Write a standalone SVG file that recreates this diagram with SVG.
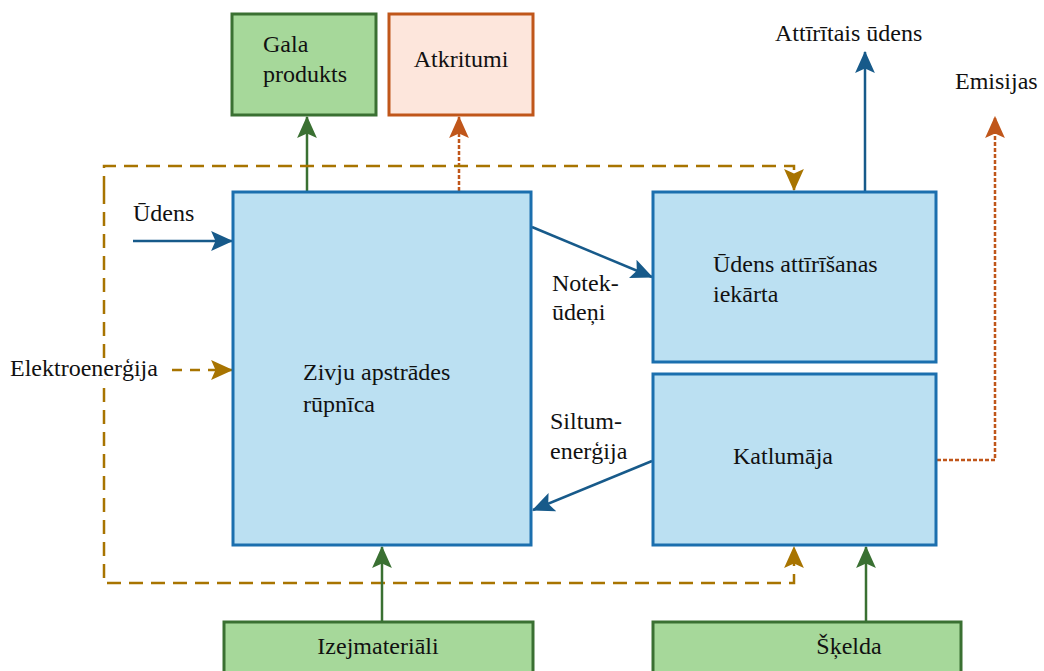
<svg xmlns="http://www.w3.org/2000/svg" width="1044" height="671" viewBox="0 0 1044 671">
<defs>
<style>
text{font-family:'Liberation Serif','Times New Roman',serif;font-size:24px;fill:#111}
.halo{stroke:#fff;stroke-width:8;paint-order:stroke;stroke-linejoin:round}
.blue{fill:#bbe0f2;stroke:#1b6fae;stroke-width:3}
.green{fill:#a6d89a;stroke:#3a7032;stroke-width:3}
.orange{fill:#fde6dc;stroke:#c0561a;stroke-width:3}
.ab{stroke:#175a8a;stroke-width:2.5;fill:none}
.ag{stroke:#3a7032;stroke-width:2.5;fill:none}
.ad{stroke:#a87400;stroke-width:2.5;fill:none;stroke-dasharray:14 8}
.ao{stroke:#c0561a;stroke-width:2.5;fill:none;stroke-dasharray:4 2}
</style>
<marker id="mg" viewBox="0 0 20 20" refX="19" refY="10" markerWidth="22" markerHeight="22" markerUnits="userSpaceOnUse" orient="auto"><path d="M0,1 L20,10 L0,19 L4,10 z" fill="#3a7032"/></marker>
<marker id="mbl" viewBox="0 0 20 20" refX="19" refY="10" markerWidth="22" markerHeight="22" markerUnits="userSpaceOnUse" orient="auto"><path d="M0,1 L20,10 L0,19 L4,10 z" fill="#175a8a"/></marker>
<marker id="md" viewBox="0 0 20 20" refX="19" refY="10" markerWidth="22" markerHeight="22" markerUnits="userSpaceOnUse" orient="auto"><path d="M0,1 L20,10 L0,19 L4,10 z" fill="#a87400"/></marker>
<marker id="mo" viewBox="0 0 20 20" refX="19" refY="10" markerWidth="22" markerHeight="22" markerUnits="userSpaceOnUse" orient="auto"><path d="M0,1 L20,10 L0,19 L4,10 z" fill="#c0561a"/></marker>
</defs>
<rect width="1044" height="671" fill="#fff"/>
<g id="connectors">
<line class="ag" x1="307" y1="191" x2="307" y2="117" marker-end="url(#mg)"/>
<line class="ao" x1="459" y1="191" x2="459" y2="117" marker-end="url(#mo)"/>
<path class="ad" d="M104,190 L104,166 L794,166 L794,190" marker-end="url(#md)"/>
<path class="ad" d="M104,190 L104,583 L794,583 L794,547" marker-end="url(#md)"/>
<line class="ab" x1="133" y1="241" x2="232" y2="241" marker-end="url(#mbl)"/>
<line class="ad" x1="172" y1="370" x2="232" y2="370" marker-end="url(#md)" style="stroke-dasharray:10 8"/>
<line class="ab" x1="532" y1="227" x2="652" y2="277" marker-end="url(#mbl)"/>
<line class="ab" x1="652" y1="461" x2="533" y2="510" marker-end="url(#mbl)"/>
<line class="ab" x1="865" y1="191" x2="865" y2="52" marker-end="url(#mbl)"/>
<path class="ao" d="M937,460 L995,460 L995,117" marker-end="url(#mo)"/>
<line class="ag" x1="382" y1="622" x2="382" y2="547" marker-end="url(#mg)"/>
<line class="ag" x1="866" y1="622" x2="866" y2="547" marker-end="url(#mg)"/>
</g>
<g id="gala"><rect class="green" x="232" y="14" width="144" height="101"/><text x="263" y="52">Gala</text><text x="263" y="82">produkts</text></g>
<g id="atkritumi"><rect class="orange" x="389" y="14" width="144" height="101"/><text x="461" y="67" text-anchor="middle">Atkritumi</text></g>
<g id="rupnica"><rect class="blue" x="233" y="192" width="298" height="353"/><text x="303" y="380">Zivju apstrādes</text><text x="303" y="412">rūpnīca</text></g>
<g id="attirisana"><rect class="blue" x="653" y="192" width="283" height="170"/><text x="713" y="272">Ūdens attīrīšanas</text><text x="713" y="302">iekārta</text></g>
<g id="katlumaja"><rect class="blue" x="653" y="374" width="283" height="171"/><text x="733" y="464">Katlumāja</text></g>
<g id="izejmateriali"><rect class="green" x="224" y="622" width="309" height="52"/><text x="378" y="654" text-anchor="middle">Izejmateriāli</text></g>
<g id="skelda"><rect class="green" x="653" y="622" width="308" height="52"/><text x="849" y="654" text-anchor="middle">Šķelda</text></g>
<g id="labels">
<text x="133" y="221">Ūdens</text>
<text class="halo" x="10" y="376">Elektroenerģija</text>
<text x="552" y="291">Notek-</text>
<text x="552" y="320">ūdeņi</text>
<text x="550" y="429">Siltum-</text>
<text x="550" y="459">enerģija</text>
<text x="775" y="41">Attīrītais ūdens</text>
<text x="955" y="89">Emisijas</text>
</g>
</svg>
